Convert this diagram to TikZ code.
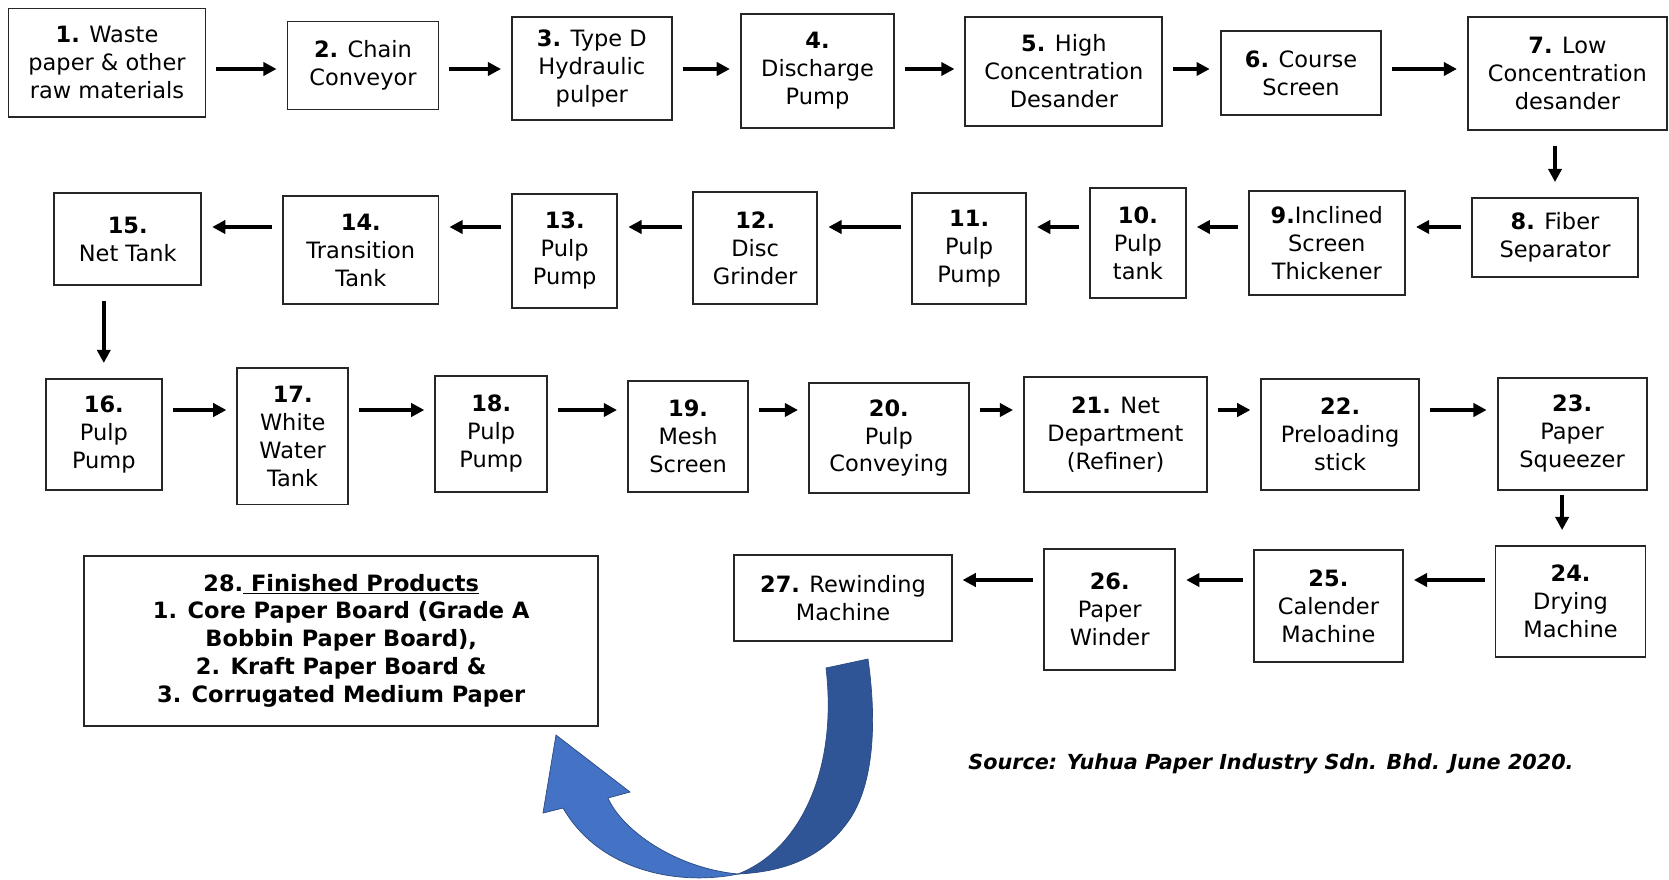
\documentclass[tikz,border=0pt]{standalone}
\usepackage{fontspec}
\setmainfont{DejaVu Sans}
\usetikzlibrary{arrows.meta}
\definecolor{arcdark}{HTML}{2F5597}
\definecolor{arclight}{HTML}{4472C4}
\definecolor{arcedge}{HTML}{2A4A80}

\tikzset{
  stepbox/.style={draw=black!85, line width=1.1pt, fill=white, align=center,
    inner sep=0pt, font=\fontsize{12.8}{15.9}\selectfont},
  boxwh/.style 2 args={minimum width=#1*0.02cm, minimum height=#2*0.02cm},
  flow/.style={-{Triangle[length=7.5pt,width=7.5pt]}, line width=2.2pt,
    shorten <=0.2cm, shorten >=0.2cm},
  vflow/.style={flow, shorten <=0.3cm, shorten >=0.3cm}
}

\begin{document}
\begin{tikzpicture}[x=0.02cm, y=-0.02cm]
\useasboundingbox (0,0) rectangle (1669,879);

% Row 1
\node[stepbox, boxwh={197}{108.6}] (n1) at (107,62.8) {\textbf{1.} Waste\\paper \& other\\raw materials};
\node[stepbox, boxwh={151}{88}] (n2) at (363,65.5) {\textbf{2.} Chain\\Conveyor};
\node[stepbox, boxwh={159.6}{103}] (n3) at (591.8,68.7) {\textbf{3.} Type D\\Hydraulic\\pulper};
\node[stepbox, boxwh={153.3}{114}] (n4) at (817.5,70.8) {\textbf{4.}\\Discharge\\Pump};
\node[stepbox, boxwh={197}{108.6}] (n5) at (1063.9,71.3) {\textbf{5.} High\\Concentration\\Desander};
\node[stepbox, boxwh={160.7}{84}] (n6) at (1301,73) {\textbf{6.} Course\\Screen};
\node[stepbox, boxwh={199}{112.8}] (n7) at (1567.4,73.4) {\textbf{7.} Low\\Concentration\\desander};

% Row 2
\node[stepbox, boxwh={166}{78.8}] (n8) at (1555,237.4) {\textbf{8.} Fiber\\Separator};
\node[stepbox, boxwh={156.5}{104.3}] (n9) at (1326.8,242.7) {\textbf{9.}Inclined\\Screen\\Thickener};
\node[stepbox, boxwh={95.8}{109.6}] (n10) at (1137.9,243.2) {\textbf{10.}\\Pulp\\tank};
\node[stepbox, boxwh={114}{111.8}] (n11) at (969.1,248.5) {\textbf{11.}\\Pulp\\Pump};
\node[stepbox, boxwh={124.5}{112.8}] (n12) at (755.2,248) {\textbf{12.}\\Disc\\Grinder};
\node[stepbox, boxwh={105.4}{114}] (n13) at (564.7,250.7) {\textbf{13.}\\Pulp\\Pump};
\node[stepbox, boxwh={155.4}{108.6}] (n14) at (360.8,250.1) {\textbf{14.}\\Transition\\Tank};
\node[stepbox, boxwh={147}{92.6}] (n15) at (127.7,239) {\textbf{15.}\\Net Tank};

% Row 3
\node[stepbox, boxwh={116}{110.7}] (n16) at (103.8,434.3) {\textbf{16.}\\Pulp\\Pump};
\node[stepbox, boxwh={110.7}{136.2}] (n17) at (292.7,436.4) {\textbf{17.}\\White\\Water\\Tank};
\node[stepbox, boxwh={111.8}{116}] (n18) at (491.2,433.7) {\textbf{18.}\\Pulp\\Pump};
\node[stepbox, boxwh={120.3}{110.7}] (n19) at (688.1,436.4) {\textbf{19.}\\Mesh\\Screen};
\node[stepbox, boxwh={159.7}{109.6}] (n20) at (888.8,438) {\textbf{20.}\\Pulp\\Conveying};
\node[stepbox, boxwh={183}{115}] (n21) at (1115.5,434.3) {\textbf{21.} Net\\Department\\(Refiner)};
\node[stepbox, boxwh={157.5}{110.7}] (n22) at (1340.1,434.3) {\textbf{22.}\\Preloading\\stick};
\node[stepbox, boxwh={149}{111.8}] (n23) at (1572.1,433.8) {\textbf{23.}\\Paper\\Squeezer};

% Row 4
\node[stepbox, boxwh={150}{110.7}] (n24) at (1570.5,601.4) {\textbf{24.}\\Drying\\Machine};
\node[stepbox, boxwh={149}{111.8}] (n25) at (1328.4,606.2) {\textbf{25.}\\Calender\\Machine};
\node[stepbox, boxwh={131}{120.3}] (n26) at (1109.7,609.4) {\textbf{26.}\\Paper\\Winder};
\node[stepbox, boxwh={217.2}{86.2}] (n27) at (843,597.7) {\textbf{27.} Rewinding\\Machine};
\node[stepbox, boxwh={514}{170.3}, font=\fontsize{12.8}{15.9}\selectfont\bfseries] (n28) at (341.2,640.8)
  {28.\underline{\ Finished Products}\\1. Core Paper Board (Grade A\\Bobbin Paper Board),\\2. Kraft Paper Board \&\\3. Corrugated Medium Paper};

% Arrow levels
\coordinate (row1) at (0,69);
\coordinate (row2) at (0,227);
\coordinate (row3) at (0,410);
\coordinate (row4) at (0,580);

% Connectors
\foreach \a/\b in {n1/n2, n2/n3, n3/n4, n4/n5, n5/n6, n6/n7}
  \draw[flow] (\a.east |- row1) -- (\b.west |- row1);
\foreach \a/\b in {n8/n9, n9/n10, n10/n11, n11/n12, n12/n13, n13/n14, n14/n15}
  \draw[flow] (\a.west |- row2) -- (\b.east |- row2);
\foreach \a/\b in {n16/n17, n17/n18, n18/n19, n19/n20, n20/n21, n21/n22, n22/n23}
  \draw[flow] (\a.east |- row3) -- (\b.west |- row3);
\foreach \a/\b in {n24/n25, n25/n26, n26/n27}
  \draw[flow] (\a.west |- row4) -- (\b.east |- row4);
\draw[vflow] (n7.south -| n8.north) -- (n8.north);
\draw[vflow] (n15.south -| n16.north) -- (n16.north);
\draw[vflow, shorten <=0.08cm] ([xshift=-0.2cm]n23.south) -- ([xshift=-0.2cm]n23.south |- n24.north);

% Curved arrow to finished products
\filldraw[fill=arcdark, draw=arcedge, line width=0.4pt]
  (826,668) -- (868,659) .. controls (878,730) and (872,790) .. (847,823)
  .. controls (820,860) and (780,872) .. (738,874)
  .. controls (800,850) and (838,770) .. (826,668) -- cycle;
\filldraw[fill=arclight, draw=arcedge, line width=0.4pt]
  (738,874) .. controls (680,886) and (600,872) .. (563,808)
  -- (543,813) -- (556,735) -- (630,792) -- (608,798)
  .. controls (622,830) and (675,868) .. (738,874) -- cycle;

% Source
\node[font=\fontsize{11.8}{14}\selectfont\bfseries\itshape] (src) at (1271,764)
  {Source: Yuhua Paper Industry Sdn. Bhd. June 2020.};
\end{tikzpicture}
\end{document}
